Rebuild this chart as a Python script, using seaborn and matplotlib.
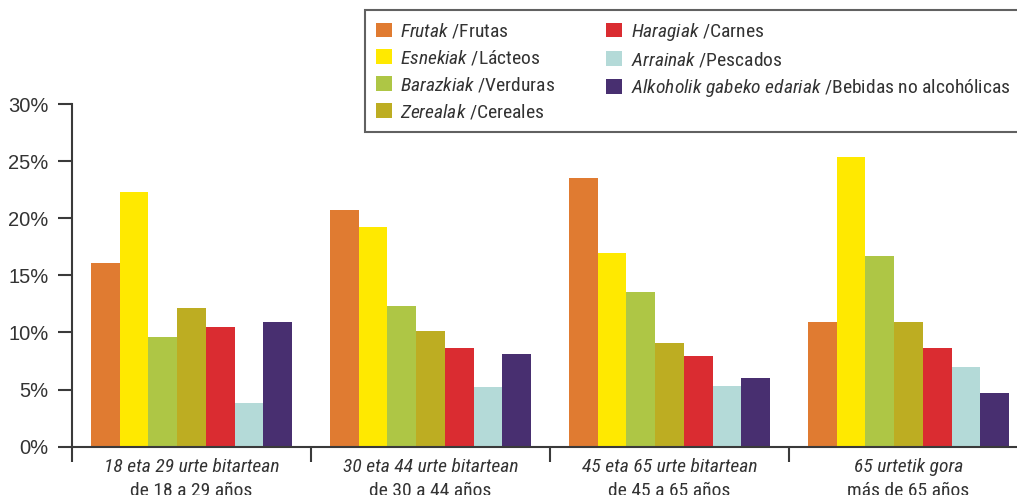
import matplotlib
matplotlib.use("Agg")
import matplotlib.pyplot as plt
from matplotlib import font_manager
from matplotlib.ticker import FixedLocator, FuncFormatter
import seaborn as sns
import pandas as pd

# --- data -------------------------------------------------------------
groups = ["18-29", "30-44", "45-65", "65+"]
group_labels_eu = [
    "18 eta 29 urte bitartean",
    "30 eta 44 urte bitartean",
    "45 eta 65 urte bitartean",
    "65 urtetik gora",
]
group_labels_es = [
    "de 18 a 29 años",
    "de 30 a 44 años",
    "de 45 a 65 años",
    "más de 65 años",
]
foods = ["Frutas", "Lácteos", "Verduras", "Cereales", "Carnes", "Pescados", "Bebidas"]
food_labels = [
    r"$\mathit{Frutak}$ /Frutas",
    r"$\mathit{Esnekiak}$ /Lácteos",
    r"$\mathit{Barazkiak}$ /Verduras",
    r"$\mathit{Zerealak}$ /Cereales",
    r"$\mathit{Haragiak}$ /Carnes",
    r"$\mathit{Arrainak}$ /Pescados",
    r"$\mathit{Alkoholik\ gabeko\ edariak}$ /Bebidas no alcohólicas",
]
frutas = [16.1, 20.7, 23.5, 10.9]
lacteos = [22.3, 19.2, 17.0, 25.4]
verduras = [9.6, 12.3, 13.5, 16.7]
cereales = [12.1, 10.1, 9.1, 10.9]
carnes = [10.5, 8.6, 7.9, 8.6]
pescados = [3.8, 5.2, 5.3, 7.0]
bebidas = [10.9, 8.1, 6.0, 4.7]
y_ticks = [0, 5, 10, 15, 20, 25, 30]

colors = ["#E07B31", "#FFE900", "#AEC645", "#BDAD22", "#DA2C31", "#B4DAD8", "#482F70"]

series = [frutas, lacteos, verduras, cereales, carnes, pescados, bebidas]
df = pd.DataFrame(
    [(g, f, v) for f, vals in zip(foods, series) for g, v in zip(groups, vals)],
    columns=["grupo", "alimento", "valor"],
)

# --- fonts ------------------------------------------------------------
sns.set_style("white")
available = {f.name for f in font_manager.fontManager.ttflist}
family = next(
    (f for f in ["Liberation Sans Narrow", "Roboto Condensed", "Liberation Sans"] if f in available),
    "DejaVu Sans",
)
tick_family = "Liberation Sans" if "Liberation Sans" in available else family
plt.rcParams["font.family"] = [family, "DejaVu Sans"]
plt.rcParams["mathtext.fontset"] = "custom"
plt.rcParams["mathtext.rm"] = family
plt.rcParams["mathtext.it"] = f"{family}:italic"
text_color = "#333333"
line_color = "#3a3a3a"

# --- figure -----------------------------------------------------------
fig = plt.figure(figsize=(10.17, 4.95), dpi=100)
ax = fig.add_axes([72 / 1017, 48.3 / 495, 945 / 1017, 342.7 / 495])

sns.barplot(
    data=df, x="grupo", y="valor", hue="alimento",
    order=groups, hue_order=foods, palette=colors,
    width=0.84, saturation=1, linewidth=0, ax=ax, legend=False,
)

ax.set_ylim(0, 30)
ax.set_xlim(-0.5, -0.5 + 945 / 239)
ax.set_xlabel("")
ax.set_ylabel("")

# y axis: percentages
ax.yaxis.set_major_locator(FixedLocator(y_ticks))
ax.yaxis.set_major_formatter(FuncFormatter(lambda v, p: f"{v:.0f}%"))
ax.tick_params(axis="y", left=True, length=10, width=1.5, color=line_color,
               labelsize=14.5, labelcolor=text_color, pad=7)
for t in ax.get_yticklabels():
    t.set_family([tick_family, "DejaVu Sans"])

# x axis: italic Basque line as tick label, Spanish line below it
ax.set_xticks(range(len(groups)))
ax.set_xticklabels(group_labels_eu, fontstyle="italic")
ax.set_xticks([-0.5, 0.5, 1.5, 2.5], minor=True)
ax.tick_params(axis="x", which="major", length=0, labelsize=14,
               labelcolor=text_color, pad=8)
ax.tick_params(axis="x", which="minor", bottom=True, length=11, width=1.5, color=line_color)

xform = ax.get_xaxis_transform()
for i, lab in enumerate(group_labels_es):
    ax.annotate(lab, xy=(i, 0), xycoords=xform, xytext=(0, -25.5),
                textcoords="offset points", ha="center", va="top",
                fontsize=14, color=text_color, annotation_clip=False)

for side in ["top", "right"]:
    ax.spines[side].set_visible(False)
for side in ["left", "bottom"]:
    ax.spines[side].set_color(line_color)
    ax.spines[side].set_linewidth(1.5)

handles = [plt.Rectangle((0, 0), 1, 1, facecolor=c, edgecolor="none") for c in colors]
leg = fig.legend(
    handles, food_labels, ncols=2, loc="upper left",
    bbox_to_anchor=(365 / 1017, 1 - 10 / 495), bbox_transform=fig.transFigure,
    frameon=True, fancybox=False, edgecolor=line_color, fontsize=14,
    handlelength=0.82, handleheight=0.78, handletextpad=0.45,
    labelspacing=0.4, columnspacing=2.6, borderpad=0.55, borderaxespad=0,
    labelcolor=text_color,
)
leg.get_frame().set_linewidth(1.5)

fig.savefig("out.png", dpi=100)
